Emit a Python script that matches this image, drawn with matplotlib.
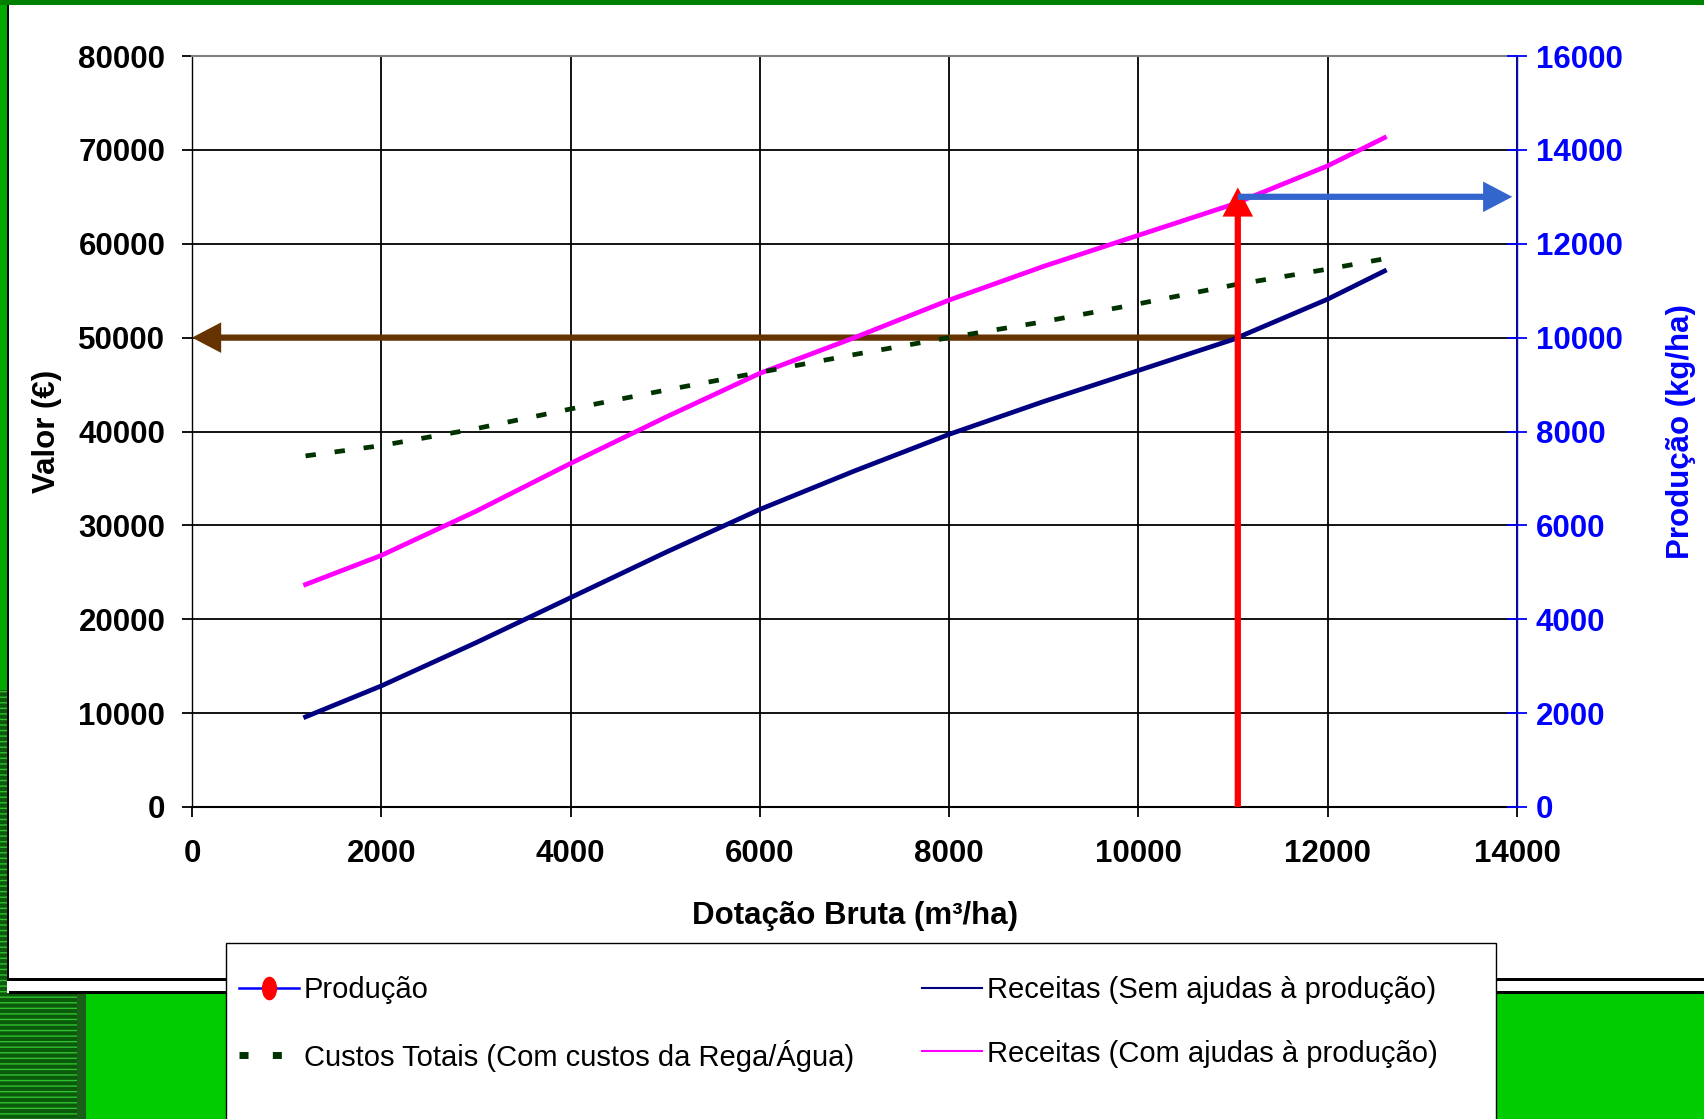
import matplotlib
matplotlib.use("Agg")
import matplotlib.pyplot as plt
from matplotlib.patches import Rectangle
from matplotlib.lines import Line2D
from matplotlib.path import Path
from matplotlib.transforms import Affine2D

# ---------------- data ----------------
dotacao = [1200, 2000, 3000, 4000, 5000, 6000, 7000, 8000, 9000, 10000, 11000, 12000, 12600]
receitas_sem = [9600, 12900, 17500, 22300, 27100, 31700, 35800, 39700, 43200, 46500, 49800, 54100, 57100]
receitas_com = [23700, 26800, 31500, 36600, 41500, 46200, 50000, 54000, 57600, 60900, 64200, 68300, 71300]
custos = [37400, 38500, 40300, 42400, 44400, 46300, 48200, 50000, 51700, 53600, 55600, 57300, 58400]

dot_opt = 11050        # m3/ha
receita_opt = 50000    # EUR
prod_opt = 13000       # kg/ha
prod_tip = 13200       # kg/ha (red arrow tip)
prod_arrow_end = 13950 # m3/ha (blue arrow end)

x_ticks = [0, 2000, 4000, 6000, 8000, 10000, 12000, 14000]
y_ticks = [0, 10000, 20000, 30000, 40000, 50000, 60000, 70000, 80000]
y2_ticks = [0, 2000, 4000, 6000, 8000, 10000, 12000, 14000, 16000]

labels = ["Produção", "Custos Totais (Com custos da Rega/Água)",
          "Receitas (Sem ajudas à produção)", "Receitas (Com ajudas à produção)"]

# ---------------- style ----------------
plt.rcParams['font.family'] = ['Liberation Sans', 'DejaVu Sans']
plt.rcParams['font.weight'] = 'bold'
plt.rcParams['axes.labelweight'] = 'bold'

W, H = 1704, 1119
fig = plt.figure(figsize=(W / 100, H / 100), dpi=100, facecolor='white')

def rect(x0, y0, x1, y1, **kw):
    r = Rectangle((x0 / W, 1 - y1 / H), (x1 - x0) / W, (y1 - y0) / H,
                  transform=fig.transFigure, **kw)
    fig.add_artist(r)
    return r

# background decoration (slide frame)
rect(0, 0, W, 5, facecolor='#008000', edgecolor='none', zorder=-5)
rect(0, 5, 7, 690, facecolor='#00A800', edgecolor='none', zorder=-5)
rect(0, 690, 7, H, facecolor='#0B5A0B', edgecolor='#30C030', hatch='---', lw=0, zorder=-5)
rect(0, 993, 77, H, facecolor='#0B5A0B', edgecolor='#30C030', hatch='---', lw=0, zorder=-5)
rect(77, 993, 86, H, facecolor='#1A5E1A', edgecolor='none', zorder=-5)
rect(86, 993, W, H, facecolor='#00CC00', edgecolor='none', zorder=-5)
rect(7, 5, 9, 980, facecolor='black', edgecolor='none', zorder=-4)
rect(7, 978, W, 980.5, facecolor='black', edgecolor='none', zorder=-4)
rect(9, 980.5, W, 991, facecolor='white', edgecolor='none', zorder=-4)
rect(9, 991, W, 993.5, facecolor='black', edgecolor='none', zorder=-4)
# legend box
rect(226, 943, 1496, H + 10, facecolor='white', edgecolor='black', lw=1.0, zorder=-3)

# ---------------- axes ----------------
ax = fig.add_axes([192 / W, 1 - 807 / H, (1517 - 192) / W, (807 - 56) / H])
ax2 = ax.twinx()

ax.set_xlim(0, 14000)
ax.set_ylim(0, 80000)
ax2.set_ylim(0, 16000)
ax.set_xticks(x_ticks)
ax.set_yticks(y_ticks)
ax2.set_yticks(y2_ticks)

ax.grid(True, color='black', lw=1.3)
ax.set_axisbelow(True)

for s in ['left', 'bottom']:
    ax.spines[s].set_color('black')
ax.spines['left'].set_linewidth(1.0)
ax.spines['bottom'].set_linewidth(1.5)
ax.spines['top'].set_color('#808080')
ax.spines['top'].set_linewidth(1.5)
ax2.spines['right'].set_color('#0000FF')
ax2.spines['right'].set_linewidth(1.0)
ax2.spines['top'].set_visible(False)
ax2.spines['left'].set_visible(False)
ax2.spines['bottom'].set_visible(False)
ax.spines['right'].set_visible(False)

fs = 22.5
ax.tick_params(axis='y', direction='out', length=7.2, width=1.3, labelsize=fs, pad=12, colors='black')
ax.tick_params(axis='x', direction='out', length=7.2, width=1.3, labelsize=fs, pad=16, colors='black')
ax2.tick_params(axis='y', direction='inout', length=15, width=1.3, labelsize=fs, pad=6,
                colors='#0000FF')

ax.set_xlabel('Dotação Bruta (m³/ha)', fontsize=fs, fontweight='bold', labelpad=23)
ax.set_ylabel('Valor (€)', fontsize=fs, fontweight='bold', labelpad=12)
ax2.set_ylabel('Produção (kg/ha)', fontsize=fs, fontweight='bold', color='#0000FF', labelpad=31)

# ---------------- series ----------------
lw = 3.4
l_sem, = ax.plot(dotacao, receitas_sem, color='#000080', lw=lw, zorder=3)
l_com, = ax.plot(dotacao, receitas_com, color='#FF00FF', lw=lw, zorder=3)
l_cus, = ax.plot(dotacao, custos, color='#003300', lw=lw,
                 linestyle=(0, (2.2, 4.0)), dash_capstyle='butt', zorder=3)

# ---------------- arrows ----------------
ms = 10
style = 'simple,head_length=2.1,head_width=2.2,tail_width=0.45'
ax.annotate('', xy=(0, receita_opt), xytext=(dot_opt, receita_opt),
            arrowprops=dict(arrowstyle=style, color='#663300', lw=0,
                            mutation_scale=ms, shrinkA=0, shrinkB=0),
            zorder=2)
ax2.annotate('', xy=(dot_opt, prod_tip), xytext=(dot_opt, 0),
             arrowprops=dict(arrowstyle=style, color='#FF0000', lw=0,
                             mutation_scale=ms, shrinkA=0, shrinkB=0),
             zorder=4)
ax2.annotate('', xy=(prod_arrow_end, prod_opt), xytext=(dot_opt, prod_opt),
             arrowprops=dict(arrowstyle=style, color='#3366CC', lw=0,
                             mutation_scale=ms, shrinkA=0, shrinkB=0),
             zorder=5)

# ---------------- legend ----------------
ellipse = Path.unit_circle().transformed(Affine2D().scale(0.62, 1.0))
h_prod = Line2D([], [], color='#0000FF', lw=1.8, marker=ellipse, markersize=16,
                markerfacecolor='#FF0000', markeredgecolor='#FF0000')
h_cus = Line2D([], [], color='#003300', lw=5, linestyle=(0, (1.3, 3.5)), dash_capstyle='butt')
h_sem = Line2D([], [], color='#000080', lw=1.5)
h_com = Line2D([], [], color='#FF00FF', lw=1.5)

leg = fig.legend([h_prod, h_cus, h_sem, h_com], labels, ncol=2,
                 loc='upper left', bbox_to_anchor=(239 / W, 1 - 976 / H),
                 bbox_transform=fig.transFigure,
                 frameon=False, borderpad=0, borderaxespad=0,
                 prop={'weight': 'normal', 'size': 21},
                 handlelength=2.05, handletextpad=0.18, columnspacing=2.33,
                 labelspacing=1.22)

fig.savefig('out.png', dpi=100, facecolor=fig.get_facecolor())
